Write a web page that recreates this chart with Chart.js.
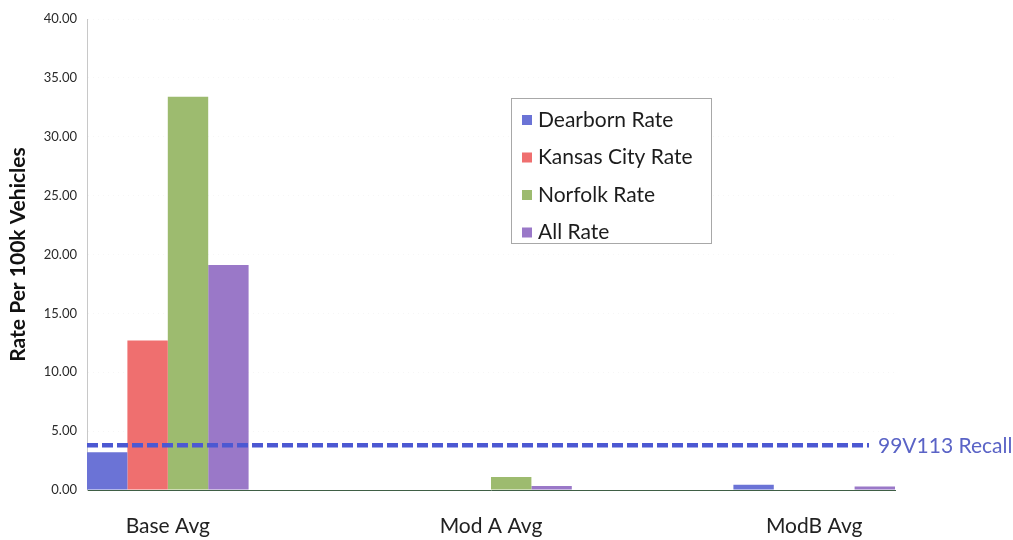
<!DOCTYPE html>
<html>
<head>
<meta charset="utf-8">
<script src="https://cdn.jsdelivr.net/npm/chart.js@4/dist/chart.umd.min.js"></script>
<style>
  html, body { margin: 0; padding: 0; background: #ffffff; }
  #wrap { width: 1013px; height: 540px; position: relative; }
</style>
</head>
<body>
<div id="wrap"><canvas id="c" width="1013" height="540"></canvas></div>
<script>
// Rates per 100k vehicles by plant, for each build configuration
const categories = ['Base Avg', 'Mod A Avg', 'ModB Avg'];
const dearbornRate = [3.2, 0.0, 0.45];
const kansasCityRate = [12.7, 0.0, 0.0];
const norfolkRate = [33.4, 1.1, 0.0];
const allRate = [19.1, 0.35, 0.3];
const seriesNames = ['Dearborn Rate', 'Kansas City Rate', 'Norfolk Rate', 'All Rate'];
const yTicks = [0, 5, 10, 15, 20, 25, 30, 35, 40];

// Reference recall rate, drawn as a dashed line across the plot
const recallRate = 3.8;
const recallLabel = '99V113 Recall';

const FONT = 'Lato, "Open Sans", sans-serif';
const groupShare = 0.5; // share of each category taken by its bar group

const colors = ['#6b73d6', '#ef6f6f', '#9dbb6f', '#9a78c8'];

const recallPlugin = {
  id: 'recallLine',
  afterDatasetsDraw(chart) {
    const { ctx, chartArea, scales } = chart;
    const y = scales.y.getPixelForValue(recallRate);
    ctx.save();
    ctx.font = '21px ' + FONT;
    ctx.textBaseline = 'middle';
    ctx.textAlign = 'left';
    const textX = chartArea.right - 17;
    ctx.strokeStyle = '#4c58d2';
    ctx.lineWidth = 4.5;
    ctx.setLineDash([11, 4]);
    ctx.beginPath();
    ctx.moveTo(chartArea.left, y);
    ctx.lineTo(textX - 9, y);
    ctx.stroke();
    ctx.setLineDash([]);
    ctx.fillStyle = '#5a63c6';
    ctx.fillText(recallLabel, textX, y + 1);
    ctx.restore();
  }
};

const boxLegendPlugin = {
  id: 'boxLegend',
  afterDraw(chart) {
    const { ctx } = chart;
    const x0 = 511, y0 = 98, w = 200, h = 145;
    ctx.save();
    ctx.fillStyle = '#ffffff';
    ctx.fillRect(x0, y0, w, h);
    ctx.strokeStyle = '#a8a8a8';
    ctx.lineWidth = 1;
    ctx.strokeRect(x0 + 0.5, y0 + 0.5, w, h);
    ctx.font = '21px ' + FONT;
    ctx.textBaseline = 'middle';
    ctx.textAlign = 'left';
    chart.data.datasets.forEach((ds, i) => {
      const cy = y0 + 22 + i * 37.5;
      ctx.fillStyle = ds.backgroundColor;
      ctx.fillRect(x0 + 11, cy - 5, 10, 10);
      ctx.fillStyle = '#1c1c1c';
      ctx.fillText(ds.label, x0 + 27, cy);
    });
    ctx.restore();
  }
};

const seriesValues = [dearbornRate, kansasCityRate, norfolkRate, allRate];

new Chart(document.getElementById('c'), {
  type: 'bar',
  data: {
    labels: categories,
    datasets: seriesValues.map((vals, i) => ({
      label: seriesNames[i],
      data: vals,
      backgroundColor: colors[i],
      borderWidth: 0,
      barPercentage: 1.0,
      categoryPercentage: groupShare
    }))
  },
  options: {
    responsive: false,
    animation: false,
    layout: { padding: { left: 0, top: 19, right: 118, bottom: 0 } },
    plugins: {
      legend: { display: false },
      tooltip: { enabled: false }
    },
    scales: {
      x: {
        offset: true,
        // the axis hugs the outer bar groups instead of whole category slots
        afterBuildTicks(scale) {
          scale._startValue = -groupShare / 2;
          scale._valueRange = (categories.length - 1) + groupShare;
        },
        afterFit(scale) { scale.height = 50; },
        grid: { display: false, drawTicks: false },
        border: { display: true, color: '#3f5f45', width: 1 },
        ticks: {
          padding: 24,
          color: '#222222',
          font: { family: FONT, size: 21 }
        }
      },
      y: {
        min: 0,
        max: 40,
        afterBuildTicks(scale) {
          scale.ticks = yTicks.map(v => ({ value: v }));
        },
        afterFit(scale) { scale.width = 87; },
        grid: { color: 'rgba(0,0,0,0.035)', drawTicks: false },
        border: { display: true, color: '#c8c8c8', dash: [1, 4] },
        ticks: {
          padding: 10,
          color: '#2a2a2a',
          font: { family: FONT, size: 13 },
          callback: v => Number(v).toFixed(2)
        },
        title: {
          display: true,
          text: 'Rate Per 100k Vehicles',
          color: '#111111',
          padding: { top: 6, bottom: 0 },
          font: { family: FONT, size: 21, weight: 'bold' }
        }
      }
    }
  },
  plugins: [recallPlugin, boxLegendPlugin]
});
</script>
</body>
</html>
